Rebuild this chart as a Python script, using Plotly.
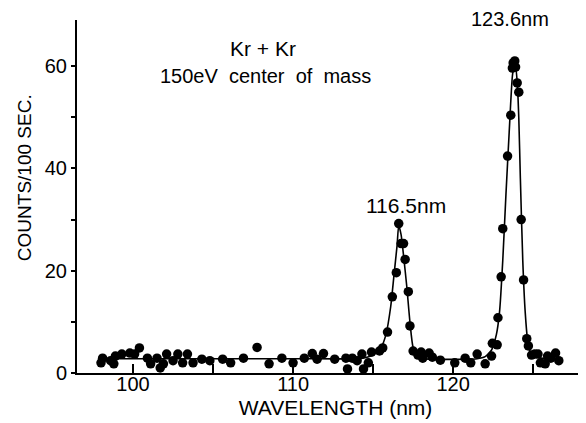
import plotly.graph_objects as go

# measured points (wavelength nm, counts / 100 s)
wavelength = [98.0, 98.1, 98.6, 98.8, 98.9, 99.3, 99.8, 100.1, 100.4, 100.9, 101.1, 101.5,
              101.7, 101.9, 102.1, 102.5, 102.8, 103.1, 103.4, 103.75, 104.3, 104.8, 105.6,
              106.1, 106.9, 107.75, 108.5, 109.3, 110.0, 110.7, 111.2, 111.5, 111.9, 112.6,
              113.3, 113.4, 113.7, 114.0, 114.3, 114.4, 114.7, 114.9, 115.4, 115.6, 115.9,
              116.2, 116.45, 116.6, 116.75, 116.9, 117.0, 117.2, 117.3, 117.5, 117.8, 118.0,
              118.1, 118.5, 118.7, 119.2, 120.1, 120.75, 121.1, 121.5, 122.0, 122.4, 122.45,
              122.75, 122.8, 123.0, 123.1, 123.4, 123.6, 123.7, 123.75, 123.85, 123.9, 124.0,
              124.1, 124.25, 124.4, 124.6, 124.7, 124.9, 125.1, 125.3, 125.45, 125.75, 125.9,
              126.1, 126.4, 126.6]
counts = [2.0, 2.9, 2.4, 1.8, 3.3, 3.7, 3.9, 3.7, 4.9, 2.9, 1.8, 2.9,
          1.0, 1.8, 3.7, 2.4, 3.7, 2.0, 3.7, 2.0, 2.7, 2.4, 2.7,
          2.0, 2.9, 5.0, 1.8, 2.9, 2.0, 2.9, 3.8, 2.7, 3.8, 2.7,
          2.9, 0.8, 2.9, 2.4, 3.7, 0.8, 2.0, 4.1, 4.3, 4.9, 8.0,
          14.9, 19.6, 29.2, 25.3, 25.3, 22.2, 15.9, 9.2, 4.3, 3.5, 4.1,
          2.9, 3.9, 3.1, 2.5, 2.0, 2.9, 2.0, 3.7, 1.8, 3.3, 5.8,
          5.5, 10.8, 18.8, 28.2, 42.4, 50.4, 59.6, 60.6, 61.0, 59.8, 56.7,
          54.9, 30.0, 18.2, 6.7, 5.3, 3.5, 3.7, 3.7, 2.0, 1.8, 3.3,
          2.9, 3.9, 2.4]

# fitted curve
fit_x = [98.0, 104.0, 110.0, 114.0, 114.5, 115.0, 115.5, 115.8, 116.1, 116.3, 116.5, 116.6,
         116.75, 116.9, 117.1, 117.3, 117.5, 117.8, 118.2, 121.5, 122.0, 122.4, 122.7, 122.9,
         123.1, 123.3, 123.5, 123.7, 123.85, 124.0, 124.1, 124.2, 124.35, 124.5, 124.65,
         124.8, 125.1, 125.5, 126.5]
fit_y = [2.8, 2.8, 2.8, 2.8, 3.0, 3.5, 5.0, 7.5, 13.0, 19.0, 25.0, 28.8,
         27.0, 23.0, 17.0, 10.0, 5.0, 3.3, 2.8, 2.8, 3.2, 4.5, 7.5, 12.0,
         22.0, 35.0, 47.0, 58.0, 61.0, 57.0, 50.0, 38.0, 22.0, 12.0, 6.5,
         4.3, 3.3, 2.9, 2.8]

x_ticks = [100, 110, 120]
x_minor = [105, 115, 125]
y_ticks = [0, 20, 40, 60]
y_minor = [10, 30, 50]

FONT = "Liberation Sans"

fig = go.Figure()
fig.add_trace(go.Scatter(x=fit_x, y=fit_y, mode="lines",
                         line=dict(color="black", width=1.6, shape="spline", smoothing=0.6),
                         hoverinfo="skip", showlegend=False))
fig.add_trace(go.Scatter(x=wavelength, y=counts, mode="markers",
                         marker=dict(color="black", size=9.5), showlegend=False,
                         cliponaxis=False))

fig.update_layout(
    width=586, height=423,
    margin=dict(l=69, r=0, t=12, b=58),
    paper_bgcolor="white", plot_bgcolor="white",
    font=dict(family=FONT, color="black", size=18),
    xaxis=dict(range=[96.5, 128.8], tickvals=x_ticks,
               ticks="inside", ticklen=9, tickwidth=1.5, tickcolor="black",
               minor=dict(tickvals=x_minor, ticks="inside", ticklen=9,
                          tickwidth=1.5, tickcolor="black"),
               showline=True, linecolor="black", linewidth=2, showgrid=False,
               zeroline=False, tickfont=dict(size=20), ticklabelstandoff=-8,
               title=dict(text="WAVELENGTH (nm)", font=dict(size=21), standoff=6)),
    yaxis=dict(range=[0, 69], tickvals=y_ticks,
               ticks="outside", ticklen=4, tickwidth=1.5, tickcolor="black",
               minor=dict(tickvals=y_minor, ticks="outside", ticklen=4,
                          tickwidth=1.5, tickcolor="black"),
               showline=True, linecolor="black", linewidth=2, showgrid=False,
               zeroline=False, tickfont=dict(size=20)),
    annotations=[
        dict(x=-0.1025, y=0.552, xref="paper", yref="paper", text="COUNTS/100 SEC.",
             textangle=-90, showarrow=False, font=dict(size=19),
             xanchor="center", yanchor="middle"),
        dict(x=108.1, y=63.5, text="Kr + Kr", showarrow=False, font=dict(size=21)),
        dict(x=108.3, y=58.0, text="150eV  center  of  mass", showarrow=False,
             font=dict(size=20)),
        dict(x=117.06, y=32.7, text="116.5nm", showarrow=False, font=dict(size=21)),
        dict(x=123.56, xref="x", y=1.004, yref="paper", text="123.6nm",
             showarrow=False, font=dict(size=20), yanchor="middle"),
    ],
)

fig.write_html("out.html")
